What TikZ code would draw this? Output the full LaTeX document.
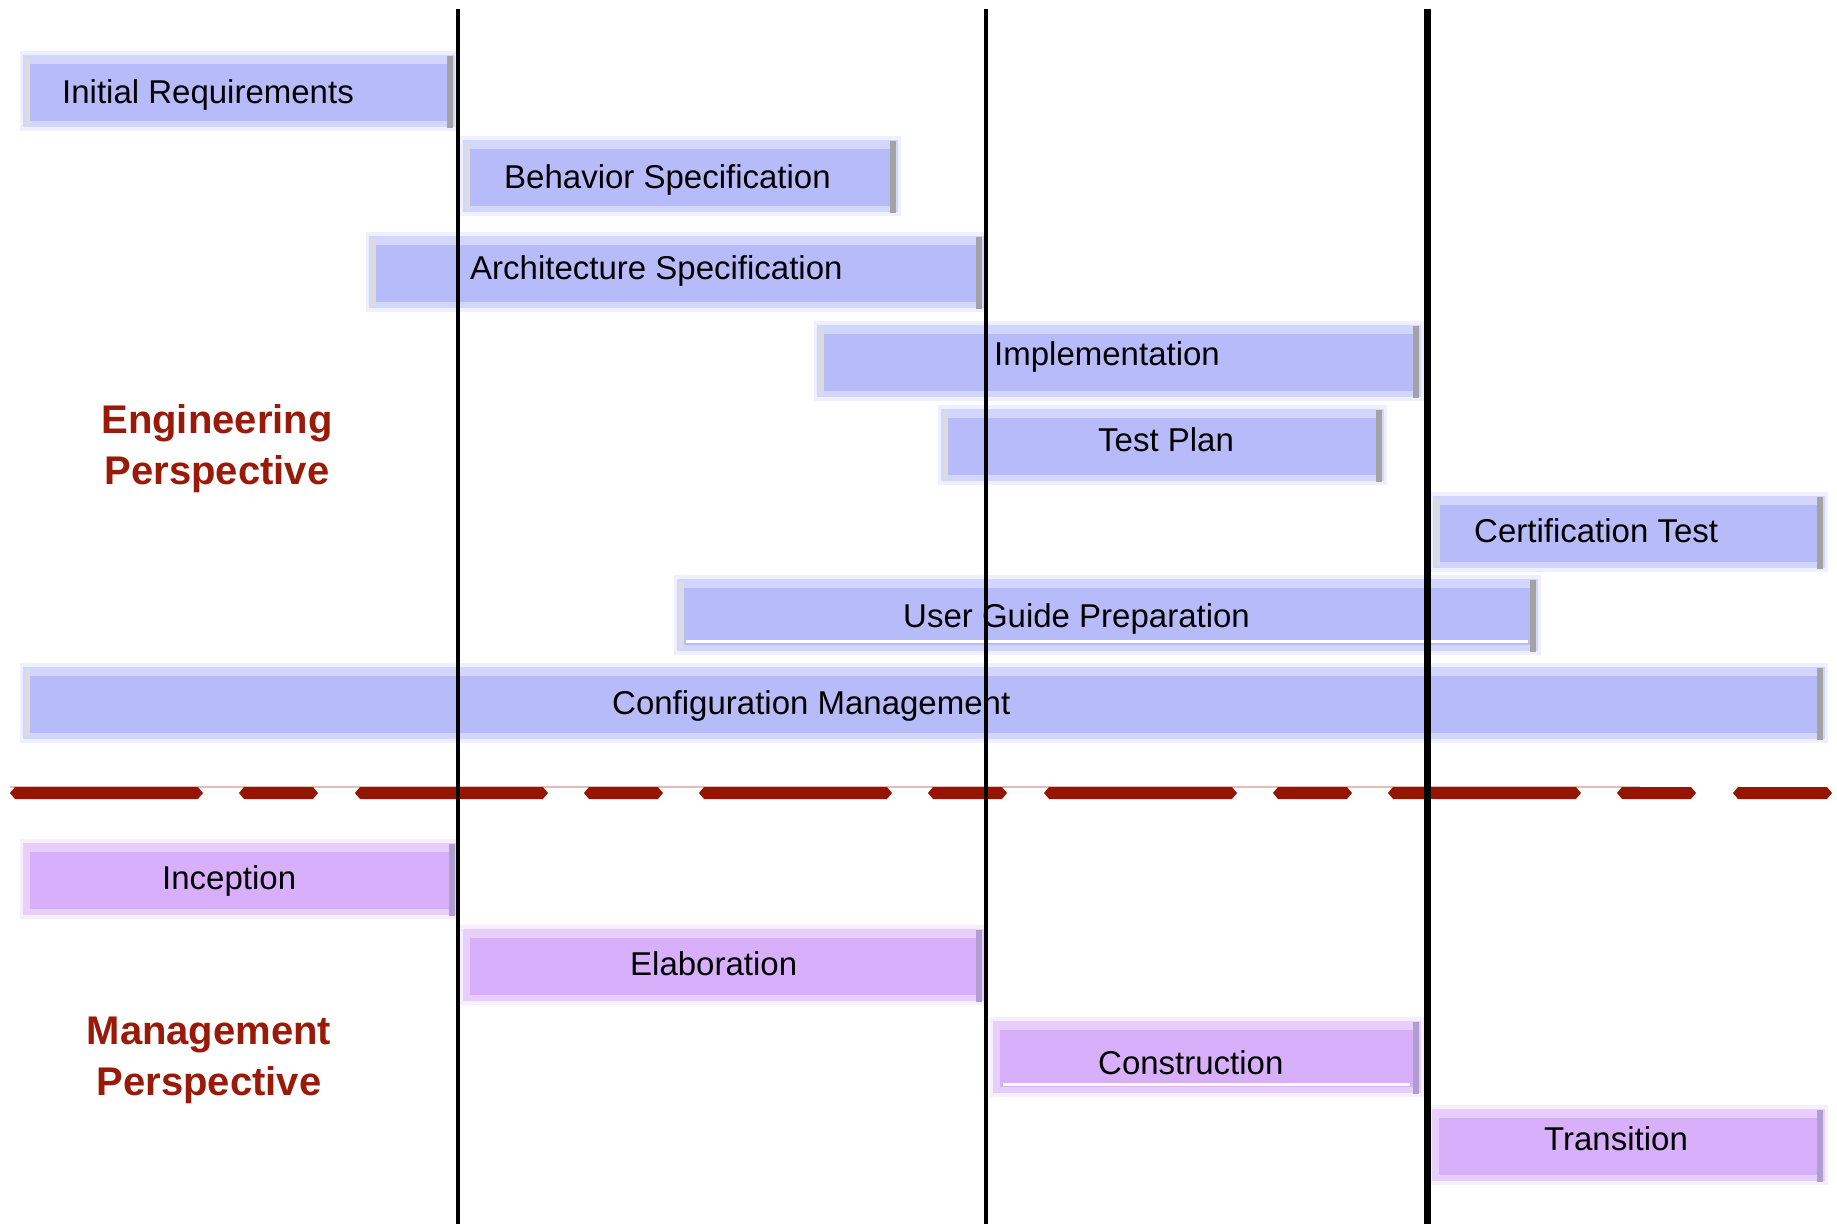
\documentclass[tikz,border=0pt]{standalone}
\usepackage{fontspec}
\setmainfont{Liberation Sans}
\definecolor{engfill}{HTML}{B7BBFA}
\definecolor{engrim}{HTML}{D3D6FC}
\definecolor{enghalo}{HTML}{EFF0FE}
\definecolor{engleft}{HTML}{DCDCDC}
\definecolor{engright}{HTML}{A3A3A3}
\definecolor{mgfill}{HTML}{D8AFFA}
\definecolor{mgrim}{HTML}{E8CEFC}
\definecolor{mghalo}{HTML}{F7EEFE}
\definecolor{mgleft}{HTML}{E8D0FC}
\definecolor{mgright}{HTML}{B09ED0}
\definecolor{darkred}{HTML}{961500}
\definecolor{labelred}{HTML}{9A1A0A}
\definecolor{pinkline}{HTML}{E2BDBA}
\newcommand\gbar[5]{% name, x1, x2, yc, palette
  \fill[#5halo] ({#2-3},{#4-40}) rectangle ({#3+3},{#4+40});
  \fill[#5rim] (#2,{#4-36}) rectangle (#3,{#4+36});
  \node[barbody, fill=#5fill, minimum width={(#3-#2-4)*1pt}] (#1) at ({(#2+#3)/2},{#4+1.5}) {};
  \fill[#5left] ({#2+2},{#4-33}) rectangle ({#2+7},{#4+34});
  \fill[#5right] ({#3-8},{#4-35}) rectangle ({#3-2},{#4+37});
}
\newcommand\rdash[2]{% x1, x2
  \fill[darkred] (#1,793) -- ({#1+5},787) -- ({#2-5},787) -- (#2,793) -- ({#2-5},799) -- ({#1+5},799) -- cycle;
}
\tikzset{
  barbody/.style={inner sep=0pt, outer sep=0pt, minimum height=57pt, draw=none},
  bartext/.style={font=\fontsize{33}{40}\selectfont, text=black, anchor=base west, inner sep=0pt},
  persp/.style={font=\fontsize{40}{51}\selectfont\bfseries, text=labelred, align=center, inner sep=0pt},
  vline/.style={draw=black, line width=4.5pt},
  vlinethick/.style={draw=black, line width=7pt},
}
\begin{document}
\begin{tikzpicture}[x=1pt, y=-1pt]
\useasboundingbox (0,0) rectangle (1837,1224);
\fill[white] (0,0) rectangle (1837,1224);

% engineering bars
\gbar{ir}{23}{455}{91}{eng}
\gbar{bs}{463}{898}{176}{eng}
\gbar{as}{369}{984}{272}{eng}
\gbar{im}{817}{1421}{361}{eng}
\gbar{tp}{941}{1384}{445}{eng}
\gbar{ct}{1433}{1825}{532}{eng}
\gbar{ug}{677}{1538}{615}{eng}
\fill[white] (686,640) rectangle (1528,643);
\gbar{cm}{23}{1825}{703}{eng}

% divider
\draw[pinkline, line width=1.5pt] (10,787) -- (1640,787);
\rdash{10}{203}\rdash{239}{318}
\rdash{355}{548}\rdash{584}{663}
\rdash{699}{892}\rdash{928}{1007}
\rdash{1044}{1237}\rdash{1273}{1352}
\rdash{1388}{1581}\rdash{1617}{1696}
\rdash{1733}{1832}

% management bars
\gbar{inc}{23}{457}{879}{mg}
\gbar{ela}{463}{984}{965}{mg}
\gbar{con}{993}{1421}{1057}{mg}
\fill[white] (1003,1083) rectangle (1410,1086);
\gbar{tra}{1432}{1825}{1145}{mg}

% phase lines
\coordinate (v1t) at (458,9); \coordinate (v1b) at (458,1224);
\coordinate (v2t) at (986,9); \coordinate (v2b) at (986,1224);
\coordinate (v3t) at (1427,9); \coordinate (v3b) at (1427,1224);
\draw[vline] (v1t) -- (v1b);
\draw[vline] (v2t) -- (v2b);
\draw[vlinethick] (v3t) -- (v3b);

% bar texts
\node[bartext] (irt) at (62,103) {Initial Requirements};
\node[bartext] (bst) at (504,188) {Behavior Specification};
\node[bartext] (ast) at (470,279) {Architecture Specification};
\node[bartext] (imt) at (994,365) {Implementation};
\node[bartext] (tpt) at (1098,451) {Test Plan};
\node[bartext] (ctt) at (1474,542) {Certification Test};
\node[bartext] (ugt) at (903,627) {User Guide Preparation};
\node[bartext] (cmt) at (612,714) {Configuration Management};
\node[bartext] (inct) at (162,889) {Inception};
\node[bartext] (elat) at (630,975) {Elaboration};
\node[bartext] (cont) at (1098,1074) {Construction};
\node[bartext] (trat) at (1544,1150) {Transition};

% perspective labels
\node[persp] (eng) at (217,449) {Engineering\\Perspective};
\node[persp] (mgt) at (209,1060) {Management\\Perspective};
\end{tikzpicture}
\end{document}
